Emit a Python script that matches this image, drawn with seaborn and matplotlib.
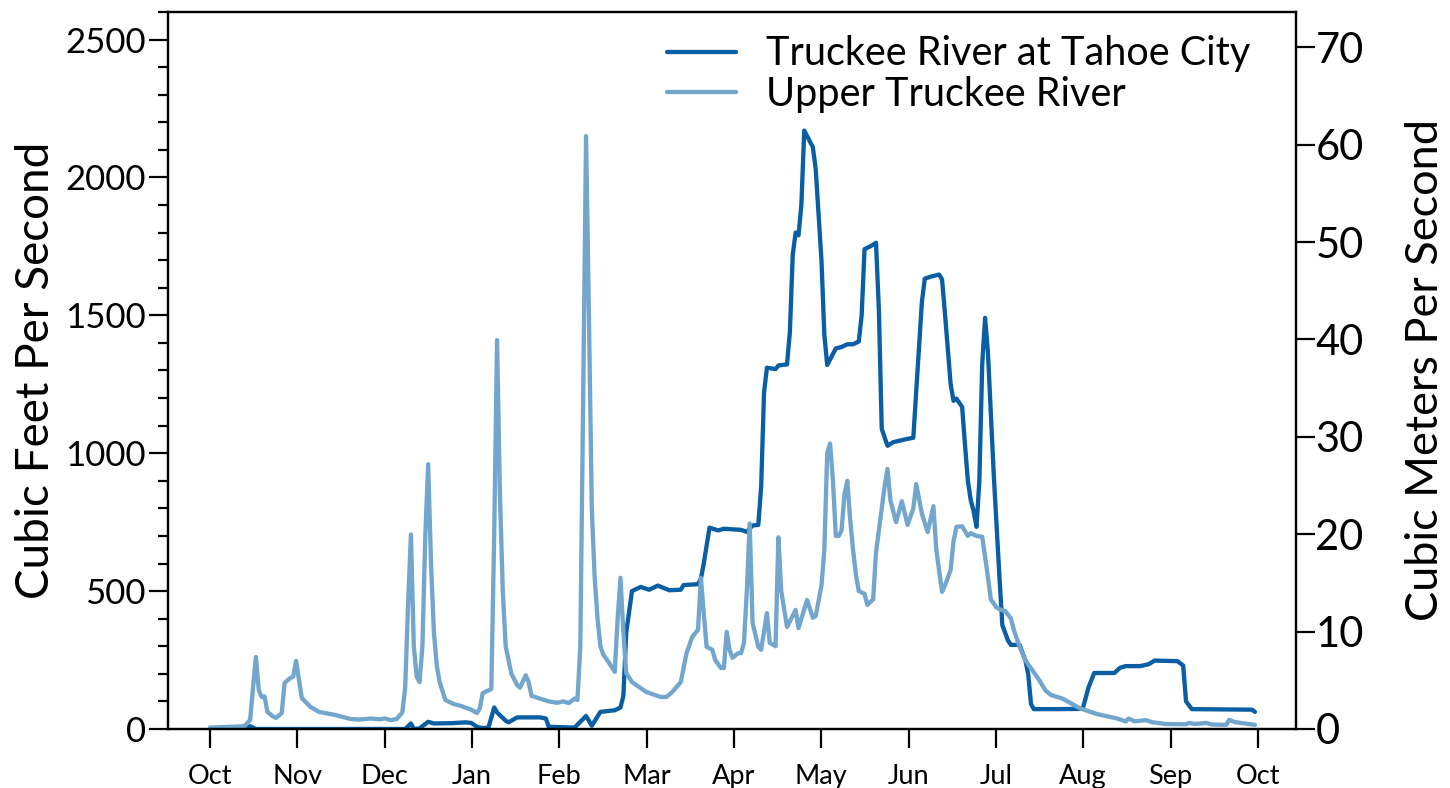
import numpy as np
import pandas as pd
import seaborn as sns
import matplotlib.pyplot as plt
from matplotlib.ticker import MultipleLocator

# day of water year (0 = Oct 1) and flow in cubic feet per second
tahoe_days = [0, 12, 14, 16, 68, 70, 71, 73, 76, 78, 84, 89, 91, 93, 95, 97, 99, 100,
              103, 104, 107, 115, 117, 118, 127, 131, 133, 136, 141, 143, 144, 145, 147,
              150, 153, 156, 160, 164, 165, 170, 171, 172, 174, 177, 179, 185, 187, 189,
              191, 192, 193, 194, 197, 198, 201, 202, 203, 204, 205, 206, 207, 209, 210,
              211, 213, 214, 215, 216, 218, 220, 222, 224, 226, 227, 228, 230, 232, 233,
              234, 236, 238, 242, 245, 246, 248, 249, 251, 254, 255, 256, 258, 259, 260,
              262, 263, 264, 265, 266, 267, 268, 269, 270, 271, 273, 275, 276, 278, 279,
              282, 284, 285, 286, 287, 296, 304, 306, 308, 315, 317, 319, 324, 327, 329,
              337, 339, 340, 342, 363, 364]
tahoe_cfs = [0, 0, 10, 0, 0, 20, 0, 2, 26, 20, 21, 24, 22, 8, 3, 5, 78, 60,
             30, 24, 42, 42, 38, 8, 5, 47, 12, 62, 68, 78, 120, 350, 500,
             515, 505, 520, 503, 505, 522, 525, 545, 600, 730, 720, 726, 722, 715, 738,
             740, 880, 1220, 1310, 1305, 1318, 1322, 1440, 1720, 1800, 1790, 1900, 2170, 2130, 2110,
             2030, 1700, 1430, 1320, 1340, 1380, 1385, 1395, 1395, 1405, 1500, 1740, 1750, 1763, 1520,
             1088, 1027, 1040, 1050, 1056, 1223, 1550, 1633, 1640, 1648, 1630, 1509, 1250, 1190, 1198,
             1168, 1030, 900, 830, 790, 733, 900, 1324, 1491, 1364, 925, 551, 377, 320, 305,
             305, 250, 200, 90, 72, 72, 73, 150, 203, 203, 222, 228, 228, 235, 248,
             246, 230, 100, 72, 70, 62]

upper_days = [0, 12, 14, 15, 16, 17, 18, 19, 20, 22, 23, 25, 26, 28, 29, 30, 31, 32,
              35, 38, 44, 49, 52, 56, 59, 61, 63, 65, 67, 68, 69, 70, 71, 72, 73, 74,
              75, 76, 77, 78, 79, 80, 82, 84, 85, 87, 91, 93, 94, 95, 97, 98, 99, 100,
              101, 102, 103, 105, 107, 108, 110, 111, 112, 115, 118, 121, 123, 125, 127, 128,
              129, 130, 131, 132, 133, 134, 135, 136, 137, 139, 141, 142, 143, 144, 145, 147,
              152, 157, 159, 161, 164, 166, 168, 170, 171, 172, 173, 175, 176, 178, 179, 180,
              181, 182, 184, 185, 186, 187, 188, 189, 191, 192, 194, 195, 197, 198, 199, 201,
              204, 205, 208, 210, 211, 213, 214, 215, 216, 217, 218, 219, 220, 221, 222, 223,
              224, 225, 226, 228, 229, 231, 232, 233, 235, 236, 237, 239, 241, 243, 245, 246,
              248, 250, 252, 253, 255, 256, 258, 259, 260, 262, 264, 265, 267, 269, 271, 272,
              274, 276, 277, 279, 280, 282, 284, 286, 289, 291, 293, 297, 303, 309, 313, 316,
              319, 320, 322, 326, 328, 333, 340, 341, 343, 347, 349, 354, 355, 357, 364]
upper_cfs = [5, 10, 33, 150, 261, 141, 116, 118, 62, 45, 40, 58, 167, 185, 190, 247, 178, 112,
             80, 62, 50, 36, 34, 38, 35, 38, 32, 36, 60, 150, 450, 705, 300, 190, 170, 300,
             700, 960, 600, 350, 230, 170, 105, 95, 90, 85, 70, 58, 75, 130, 140, 145, 700, 1410,
             850, 500, 300, 200, 160, 150, 195, 170, 120, 110, 100, 95, 100, 94, 110, 105,
             300, 1200, 2150, 1500, 800, 550, 400, 300, 270, 240, 207, 400, 548, 350, 203, 170,
             134, 116, 116, 134, 170, 275, 334, 360, 548, 420, 298, 287, 250, 221, 221, 352,
             287, 258, 275, 275, 312, 500, 745, 385, 298, 287, 420, 312, 300, 695, 500, 370,
             432, 366, 468, 403, 410, 520, 650, 1000, 1035, 900, 700, 700, 720, 850, 900, 760,
             650, 560, 500, 490, 450, 470, 640, 720, 880, 943, 830, 750, 826, 740, 800, 888,
             780, 714, 808, 650, 497, 520, 577, 680, 733, 735, 700, 710, 700, 697, 550, 470,
             440, 430, 428, 400, 360, 298, 250, 220, 175, 140, 123, 110, 75, 54, 45, 38,
             27, 38, 28, 32, 25, 18, 17, 22, 18, 22, 16, 15, 33, 25, 15]

months = ["Oct", "Nov", "Dec", "Jan", "Feb", "Mar", "Apr", "May", "Jun", "Jul", "Aug", "Sep", "Oct"]

CFS_PER_CMS = 35.3147

sns.set_theme(style="ticks")
plt.rcParams['font.family'] = ['Lato', 'DejaVu Sans']
plt.rcParams['text.color'] = 'black'
plt.rcParams['axes.labelcolor'] = 'black'
plt.rcParams['xtick.color'] = 'black'
plt.rcParams['ytick.color'] = 'black'

fig = plt.figure(figsize=(14.5, 7.88), dpi=100)
ax = fig.add_axes([0.1159, 0.0749, 0.7779, 0.9099])

tahoe = pd.DataFrame({"day": tahoe_days, "cfs": tahoe_cfs})
upper = pd.DataFrame({"day": upper_days, "cfs": upper_cfs})

sns.lineplot(data=tahoe, x="day", y="cfs", ax=ax, color="#0a5ea4", linewidth=3.1,
             label="Truckee River at Tahoe City")
sns.lineplot(data=upper, x="day", y="cfs", ax=ax, color="#72a6cd", linewidth=3.1,
             label="Upper Truckee River")

ax.set_xlim(-14.6, 378.3)
ax.set_ylim(0, 2600)
ax.set_xticks(np.linspace(0, 365, 13))
ax.set_xticklabels(months)
ax.yaxis.set_major_locator(MultipleLocator(500))
ax.yaxis.set_minor_locator(MultipleLocator(100))
ax.set_xlabel("")
ax.set_ylabel("Cubic Feet Per Second", fontsize=33, labelpad=6)
ax.tick_params(axis="x", direction="out", length=14, width=1.6, labelsize=19.5, pad=11)
ax.tick_params(axis="y", which="major", direction="out", length=14, width=1.6, labelsize=25, pad=2)
ax.tick_params(axis="y", which="minor", direction="out", length=7, width=1.6)
for s in ax.spines.values():
    s.set_linewidth(1.6)
    s.set_color("black")

ax2 = ax.twinx()
ax2.set_ylim(0, 2600 / CFS_PER_CMS)
ax2.yaxis.set_major_locator(MultipleLocator(10))
ax2.tick_params(axis="y", direction="out", length=14, width=1.6, labelsize=30, pad=0)
ax2.set_ylabel("Cubic Meters Per Second", fontsize=32.5, labelpad=30)
for s in ax2.spines.values():
    s.set_linewidth(1.6)
    s.set_color("black")

ax.legend(loc="upper right", bbox_to_anchor=(0.991, 1.017), frameon=False, fontsize=28.5,
          handlelength=1.75, handletextpad=0.75, labelspacing=0.08)

fig.savefig("out.png", dpi=100)
